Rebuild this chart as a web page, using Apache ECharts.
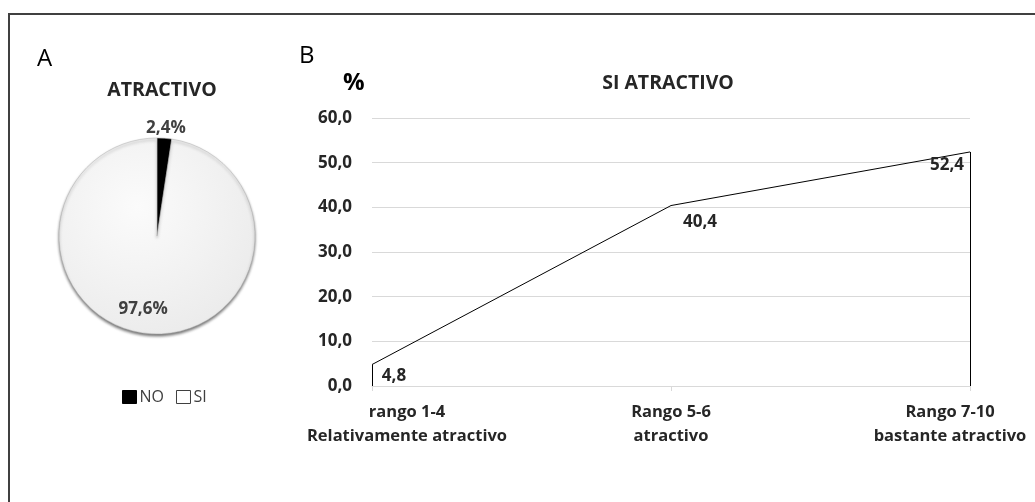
<!DOCTYPE html>
<html>
<head>
<meta charset="utf-8">
<script src="https://cdn.jsdelivr.net/npm/echarts@6/dist/echarts.min.js"></script>
<style>
  html, body { margin: 0; padding: 0; background: #fff; }
  #chart { width: 1035px; height: 502px; }
</style>
</head>
<body>
<div id="chart"></div>
<script>
// pie A
var pieNames = ['NO', 'SI'];
var pieValues = [2.4, 97.6];
// line B
var rangeLabels = ['rango 1-4\nRelativamente atractivo', 'Rango 5-6\natractivo', 'Rango 7-10\nbastante atractivo'];
var siValues = [4.8, 40.4, 52.4];

var FONT = '"Open Sans", "Noto Sans", sans-serif';
var comma = function (v) { return String(Number(v).toFixed(1)).replace('.', ','); };

var chart = echarts.init(document.getElementById('chart'));
chart.setOption({
  animation: false,
  textStyle: { fontFamily: FONT },
  graphic: [{
    type: 'rect',
    shape: { x: 9, y: 14, width: 1100, height: 600 },
    style: { fill: 'none', stroke: '#404040', lineWidth: 2 },
    silent: true
  }],
  title: [
    { text: 'A', left: 32, top: 42, textStyle: { fontSize: 24, fontWeight: 'normal', color: '#000', fontFamily: FONT } },
    { text: 'ATRACTIVO', left: 157, top: 75, textAlign: 'center', textStyle: { fontSize: 19.5, fontWeight: 'bold', color: '#262626', fontFamily: FONT } },
    { text: 'B', left: 294, top: 39, textStyle: { fontSize: 24, fontWeight: 'normal', color: '#000', fontFamily: FONT } },
    { text: '%', left: 338, top: 66, textStyle: { fontSize: 24, fontWeight: 'bold', color: '#000', fontFamily: FONT } },
    { text: 'SI ATRACTIVO', left: 663, top: 68, textAlign: 'center', textStyle: { fontSize: 19.5, fontWeight: 'bold', color: '#262626', fontFamily: FONT } }
  ],
  legend: {
    left: 117, top: 384,
    itemWidth: 14, itemHeight: 13, itemGap: 12,
    icon: 'rect',
    textStyle: { fontSize: 16, color: '#404040', padding: [0, 0, 0, -2] },
    data: [
      { name: 'NO', itemStyle: { color: '#000', borderColor: '#000', borderWidth: 1 } },
      { name: 'SI', itemStyle: { color: '#fff', borderColor: '#404040', borderWidth: 1 } }
    ]
  },
  grid: { left: 372, right: 65, top: 118, bottom: 116, outerBoundsMode: 'none', containLabel: false },
  xAxis: {
    type: 'category',
    boundaryGap: false,
    data: [
      { value: rangeLabels[0], textStyle: { padding: [0, 0, 0, 70] } },
      { value: rangeLabels[1] },
      { value: rangeLabels[2], textStyle: { padding: [0, 40, 0, 0] } }
    ],
    axisLine: { lineStyle: { color: '#d9d9d9' } },
    axisTick: { show: true, length: 5, lineStyle: { color: '#d9d9d9' } },
    axisLabel: { margin: 14, fontSize: 16.5, fontWeight: 'bold', color: '#262626', lineHeight: 24, interval: 0 }
  },
  yAxis: {
    type: 'value',
    min: 0, max: 60, interval: 10,
    axisLine: { show: false },
    axisTick: { show: false },
    splitLine: { lineStyle: { color: '#d9d9d9' } },
    axisLabel: { margin: 20, fontSize: 17, fontWeight: 'bold', color: '#262626', formatter: comma }
  },
  series: [
    {
      name: 'ATRACTIVO',
      type: 'pie',
      center: [157, 236],
      radius: 98,
      startAngle: 90,
      clockwise: true,
      legendHoverLink: false,
      labelLine: { show: false },
      itemStyle: {
        borderColor: '#b0b0b0', borderWidth: 0.5,
        shadowColor: 'rgba(0,0,0,0.55)', shadowBlur: 3, shadowOffsetY: 2
      },
      label: {
        position: 'inside', fontSize: 17, fontWeight: 'bold', color: '#404040',
        formatter: function (p) { return comma(p.value) + '%'; }
      },
      data: [
        { name: pieNames[0], value: pieValues[0], itemStyle: { color: '#000' }, label: { offset: [5, -56] } },
        {
          name: pieNames[1], value: pieValues[1],
          itemStyle: {
            color: { type: 'radial', x: 0.4, y: 0.35, r: 0.7, colorStops: [{ offset: 0, color: '#fbfbfb' }, { offset: 1, color: '#ebebeb' }] }
          },
          label: { offset: [-10, 21] }
        }
      ]
    },
    {
      name: 'SI ATRACTIVO',
      type: 'line',
      data: [
        { value: siValues[0], label: { offset: [22, 12] } },
        { value: siValues[1], label: { offset: [29, 17] } },
        { value: siValues[2], label: { offset: [-23, 13] } }
      ],
      symbol: 'circle',
      symbolSize: 0.1,
      itemStyle: { color: '#000' },
      lineStyle: { color: '#000', width: 1 },
      label: {
        show: true, position: 'inside', fontSize: 17, fontWeight: 'bold', color: '#262626',
        formatter: function (p) { return comma(p.value); }
      },
      markLine: {
        silent: true,
        symbol: 'none',
        label: { show: false },
        lineStyle: { color: '#000', width: 1, type: 'solid' },
        data: [
          [{ coord: [0, 0] }, { coord: [0, siValues[0]] }],
          [{ coord: [2, 0] }, { coord: [2, siValues[2]] }]
        ]
      }
    }
  ]
});
</script>
</body>
</html>
